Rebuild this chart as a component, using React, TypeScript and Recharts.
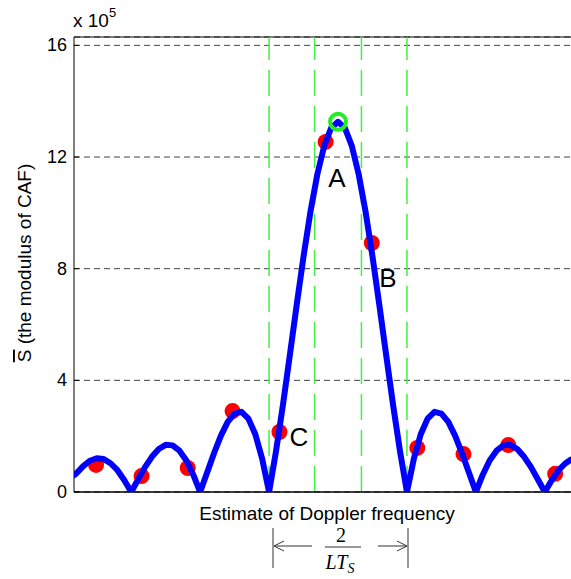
import React from 'react';
import {
  ComposedChart,
  Scatter,
  XAxis,
  YAxis,
  CartesianGrid,
  ReferenceLine,
  Customized,
} from 'recharts';

// Doppler-frequency offset (in units of the main-lobe half width) for the traced curve
const curveX = [
  -3.83, -3.8, -3.7, -3.6, -3.5, -3.4, -3.3, -3.2, -3.1, -3.0,
  -2.9, -2.8, -2.7, -2.6, -2.5, -2.4, -2.3, -2.2, -2.1, -2.0,
  -1.9, -1.8, -1.7, -1.6, -1.5, -1.4, -1.3, -1.2, -1.1, -1.0,
  -0.9, -0.8, -0.7, -0.6, -0.5, -0.4, -0.3, -0.2, -0.1, 0,
  0.1, 0.2, 0.3, 0.4, 0.5, 0.6, 0.7, 0.8, 0.9, 1.0,
  1.1, 1.2, 1.3, 1.4, 1.5, 1.6, 1.7, 1.8, 1.9, 2.0,
  2.1, 2.2, 2.3, 2.4, 2.5, 2.6, 2.7, 2.8, 2.9, 3.0,
  3.1, 3.2, 3.3, 3.38,
];
// |CAF| modulus (x 10^5)
const curveY = [
  0.6, 0.66, 0.92, 1.12, 1.21, 1.18, 1.03, 0.78, 0.42, 0,
  0.45, 0.89, 1.26, 1.54, 1.69, 1.67, 1.48, 1.13, 0.62, 0,
  0.69, 1.38, 2.01, 2.51, 2.81, 2.87, 2.63, 2.07, 1.19, 0,
  1.45, 3.1, 4.88, 6.69, 8.44, 10.04, 11.38, 12.4, 13.04, 13.26,
  13.04, 12.4, 11.38, 10.04, 8.44, 6.69, 4.88, 3.1, 1.45, 0,
  1.19, 2.07, 2.63, 2.87, 2.81, 2.51, 2.01, 1.38, 0.69, 0,
  0.62, 1.13, 1.48, 1.67, 1.69, 1.54, 1.26, 0.89, 0.45, 0,
  0.42, 0.78, 1.03, 1.16,
];

// red sample points
const sampleX = [-3.51, -2.85, -2.18, -1.53, -0.85, -0.18, 0.49, 1.15, 1.82, 2.47, 3.15];
const sampleY = [0.97, 0.57, 0.86, 2.9, 2.15, 12.54, 8.92, 1.58, 1.36, 1.68, 0.65];

// green peak marker
const peakX = [0];
const peakY = [13.26];

// green dashed marker lines
const markerX = [-1.0, -0.34, 0.34, 1.0];

const yTicks = [0, 4, 8, 12, 16];

const curveData = curveX.map((x, i) => ({ x, y: curveY[i] }));
const sampleData = sampleX.map((x, i) => ({ x, y: sampleY[i] }));
const peakData = peakX.map((x, i) => ({ x, y: peakY[i] }));

const SANS = '"Liberation Sans", Arial, Helvetica, sans-serif';
const SERIF = '"Liberation Serif", "Times New Roman", serif';

const YTick = (props: any) => {
  const { x, y, payload } = props;
  return (
    <g>
      <text
        x={x}
        y={y}
        textAnchor="end"
        dominantBaseline="central"
        fontSize={18}
        fontFamily={SANS}
        fill="#000"
      >
        {payload.value}
      </text>
      <line x1={x + 7} x2={x + 12} y1={y} y2={y} stroke="#000" strokeWidth={1} />
    </g>
  );
};

const Annotations = () => (
  <g>
    {/* exponent */}
    <text x={73} y={27} fontSize={19} fontFamily={SANS} fill="#000">
      x 10
      <tspan fontSize={13} dy={-10}>
        5
      </tspan>
    </text>
    {/* y label */}
    <text
      x={31}
      y={263}
      transform="rotate(-90, 31, 263)"
      textAnchor="middle"
      fontSize={19}
      fontFamily={SANS}
      fill="#000"
    >
      <tspan style={{ textDecoration: 'overline' }}>S</tspan> (the modulus of CAF)
    </text>
    {/* x label */}
    <text x={327} y={520} textAnchor="middle" fontSize={19} fontFamily={SANS} fill="#000">
      Estimate of Doppler frequency
    </text>
    {/* point labels */}
    <text x={337} y={178} textAnchor="middle" dominantBaseline="central" fontSize={26} fontFamily={SANS} fill="#000">
      A
    </text>
    <text x={388} y={278} textAnchor="middle" dominantBaseline="central" fontSize={26} fontFamily={SANS} fill="#000">
      B
    </text>
    <text x={299} y={437} textAnchor="middle" dominantBaseline="central" fontSize={26} fontFamily={SANS} fill="#000">
      C
    </text>
    {/* width annotation */}
    <g stroke="#333" strokeWidth={1} fill="none">
      <line x1={273} x2={273} y1={528} y2={568} />
      <line x1={408} x2={408} y1={528} y2={568} />
      <line x1={274} x2={312} y1={546} y2={546} />
      <line x1={378} x2={407} y1={546} y2={546} />
      <polyline points="284,541 274,546 284,551" />
      <polyline points="397,541 407,546 397,551" />
      <line x1={325} x2={361} y1={547} y2={547} />
    </g>
    <text x={341} y={542} textAnchor="middle" fontSize={20} fontFamily={SERIF} fill="#000">
      2
    </text>
    <text x={340} y={569} textAnchor="middle" fontSize={20} fontFamily={SERIF} fontStyle="italic" fill="#000">
      LT
      <tspan fontSize={14} dy={4}>
        S
      </tspan>
    </text>
  </g>
);

export default function App() {
  return (
    <div style={{ position: 'absolute', left: 0, top: 0, width: 571, height: 579, background: '#fff' }}>
      <ComposedChart
        width={571}
        height={579}
        margin={{ top: 37, right: 0, left: 0, bottom: 67 }}
      >
        <CartesianGrid vertical={false} stroke="#444" strokeDasharray="6 4" strokeWidth={1} />
        <XAxis
          type="number"
          dataKey="x"
          domain={[-3.83, 3.38]}
          allowDataOverflow
          tick={false}
          tickLine={false}
          height={20}
          axisLine={{ stroke: '#000', strokeWidth: 1.5 }}
        />
        <YAxis
          type="number"
          domain={[0, 16.3]}
          ticks={yTicks}
          width={74}
          tickSize={0}
          tickMargin={7}
          tick={<YTick />}
          axisLine={{ stroke: '#000', strokeWidth: 1 }}
          allowDataOverflow
        />
        <ReferenceLine y={16.3} stroke="#000" strokeWidth={1} />
        {markerX.map((mx) => (
          <ReferenceLine
            key={mx}
            x={mx}
            stroke="#44ee44"
            strokeWidth={1.5}
            strokeDasharray="26 10"
          />
        ))}
        <Scatter
          data={sampleData}
          dataKey="y"
          isAnimationActive={false}
          shape={(p: any) => <circle cx={p.cx} cy={p.cy} r={8} fill="#ff0000" />}
        />
        <Scatter
          data={curveData}
          dataKey="y"
          isAnimationActive={false}
          line={{ stroke: '#0000ff', strokeWidth: 6, strokeLinejoin: 'round', strokeLinecap: 'round', fill: 'none' }}
          lineType="joint"
          shape={() => <g />}
        />
        <Scatter
          data={peakData}
          dataKey="y"
          isAnimationActive={false}
          shape={(p: any) => (
            <circle cx={p.cx} cy={p.cy} r={8} fill="none" stroke="#22ee22" strokeWidth={4} />
          )}
        />
        <Customized component={Annotations} />
      </ComposedChart>
    </div>
  );
}
